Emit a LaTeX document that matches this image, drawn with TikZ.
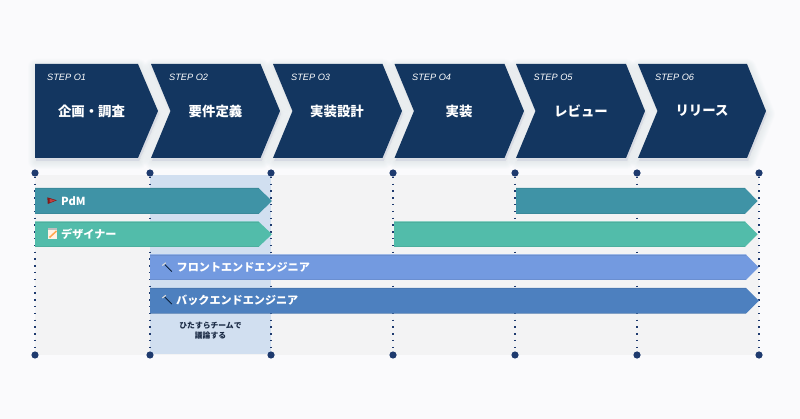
\documentclass[tikz,border=0pt]{standalone}
\usepackage{fontspec}
\setmainfont{Noto Sans CJK JP}
\newfontfamily\stepfont{Liberation Sans}
\definecolor{pagebg}{HTML}{FAFAFC}
\definecolor{bandbg}{HTML}{F3F3F4}
\definecolor{colbg}{HTML}{D1DFF0}
\definecolor{navy}{HTML}{133660}
\definecolor{notec}{HTML}{1A2A44}
\definecolor{dotc}{HTML}{1E3A6E}
\definecolor{barpdm}{HTML}{3F93A6}
\definecolor{bardes}{HTML}{52BCAA}
\definecolor{barfe}{HTML}{739AE0}
\definecolor{barbe}{HTML}{4D80BF}
\definecolor{shadowc}{HTML}{9AAAC0}
\tikzset{
  x=1pt,y=-1pt,
  dotnode/.style={circle,fill=dotc,minimum size=7.2pt,inner sep=0pt},
  dotline/.style={dotc,line width=1.5pt,dash pattern=on 1.5pt off 5.3pt},
  steplabel/.style={anchor=west,text=white,font=\stepfont\itshape\fontsize{9.2}{9}\selectfont,inner sep=0pt},
  steptitle/.style={text=white,font=\bfseries\fontsize{13.4}{14}\selectfont,inner sep=0pt},
  barlabel/.style={anchor=west,text=white,font=\bfseries\fontsize{11.1}{12}\selectfont,inner sep=0pt},
  notelabel/.style={align=center,text=notec,font=\bfseries\fontsize{7.8}{10}\selectfont,inner sep=0pt}
}
\newcommand{\chevpath}[3]{(#1,64) -- (#2,64) -- (#3,111) -- (#2,158) -- (#1,158) -- ({#1+19.5},111) -- cycle}
\newcommand{\shadowed}[1]{%
  \foreach \w in {2,4,...,16}{\draw[shadowc,draw opacity=.022,line width=\w pt,line join=round,fill=shadowc,fill opacity=.022,yshift=-3pt,xshift=1pt] #1;}%
}
\newcommand{\barshape}[6]{%
  \fill[#6] (#1,#4) -- (#2,#4) -- (#3,{(#4+#5)/2}) -- (#2,#5) -- (#1,#5) -- cycle;
  \draw[#6!85!black,opacity=.45,line width=.5pt] (#1,{#4+.3}) -- (#2,{#4+.3}) (#1,{#5-.3}) -- (#2,{#5-.3});
}
\begin{document}
\begin{tikzpicture}
\useasboundingbox (0,0) rectangle (800,419);
\fill[pagebg] (0,0) rectangle (800,419);
% chevron shadows
\shadowed{(35,64) -- (138,64) -- (158,111) -- (138,158) -- (35,158) -- cycle}
\shadowed{\chevpath{151}{260.5}{280}}
\shadowed{\chevpath{273}{382.5}{402}}
\shadowed{\chevpath{394.5}{504.5}{524}}
\shadowed{\chevpath{516}{626}{645}}
\shadowed{\chevpath{638}{747}{766}}
% bands
\fill[bandbg] (35,175) rectangle (759,355);
\fill[colbg] (150,175) rectangle (271,354);
% chevrons
\fill[navy] (35,64) -- (138,64) -- (158,111) -- (138,158) -- (35,158) -- cycle;
\fill[navy] \chevpath{151}{260.5}{280};
\fill[navy] \chevpath{273}{382.5}{402};
\fill[navy] \chevpath{394.5}{504.5}{524};
\fill[navy] \chevpath{516}{626}{645};
\fill[navy] \chevpath{638}{747}{766};
\node[steplabel] (s1) at (47,77) {STEP O1};
\node[steplabel] (s2) at (169,77) {STEP O2};
\node[steplabel] (s3) at (291,77) {STEP O3};
\node[steplabel] (s4) at (412,77) {STEP O4};
\node[steplabel] (s5) at (533.5,77) {STEP O5};
\node[steplabel] (s6) at (655,77) {STEP O6};
\node[steptitle] (t1) at (91.5,111) {企画・調査};
\node[steptitle] (t2) at (215.5,111) {要件定義};
\node[steptitle] (t3) at (337,111) {実装設計};
\node[steptitle] (t4) at (459,111) {実装};
\node[steptitle] (t5) at (581,111) {レビュー};
\node[steptitle] (t6) at (702,111) {リリース};
% dots and dotted lines
\foreach \n/\x in {a/35,b/150,c/271,d/393,e/515,f/637,g/759}{
  \node[dotnode] (\n1) at (\x,173) {};
  \node[dotnode] (\n2) at (\x,355) {};
  \draw[dotline] (\n1) -- (\n2);
}
% bars
\barshape{35}{258.5}{272}{188}{214}{barpdm}
\barshape{516}{745}{757.5}{188}{214}{barpdm}
\barshape{35}{258.5}{272}{221.5}{247}{bardes}
\barshape{394}{745}{757.5}{221.5}{247}{bardes}
\barshape{150}{746}{758.5}{254.5}{280}{barfe}
\barshape{150}{746}{759}{288}{313.5}{barbe}
% flag icon
\fill[red!45!black!90] (47.3,197.3) -- (56.8,200.3) -- (47.8,204) -- cycle;
\fill[red!50!gray] (49.5,198.8) -- (55,200.4) -- (49.8,202.6) -- cycle;
% notepad icon
\fill[white!90!orange] (47.5,228.5) rectangle (57,239);
\fill[gray!50] (47.5,228.5) rectangle (57,229.8);
\draw[orange!70!white,line width=1.5pt] (49.5,237.5) -- (56.5,231);
% hammers
\foreach \hx/\hy in {162.3/263,162.3/295.5}{
  \draw[navy!60!black,line width=.9pt] ({\hx+2.5},{\hy+1.5}) -- ({\hx+9.5},{\hy+8.5});
  \draw[white!70!gray,line width=1.1pt] (\hx,{\hy+2.5}) -- ({\hx+3.5},{\hy-.2});
}
\node[barlabel] (pdm) at (61,201) {PdM};
\node[barlabel] (des) at (61,234.5) {デザイナー};
\node[barlabel] (fe) at (176.5,267) {フロントエンドエンジニア};
\node[barlabel] (be) at (176,300.5) {バックエンドエンジニア};
\node[notelabel] (note) at (210.5,331) {ひたすらチームで\\議論する};
\end{tikzpicture}
\end{document}
